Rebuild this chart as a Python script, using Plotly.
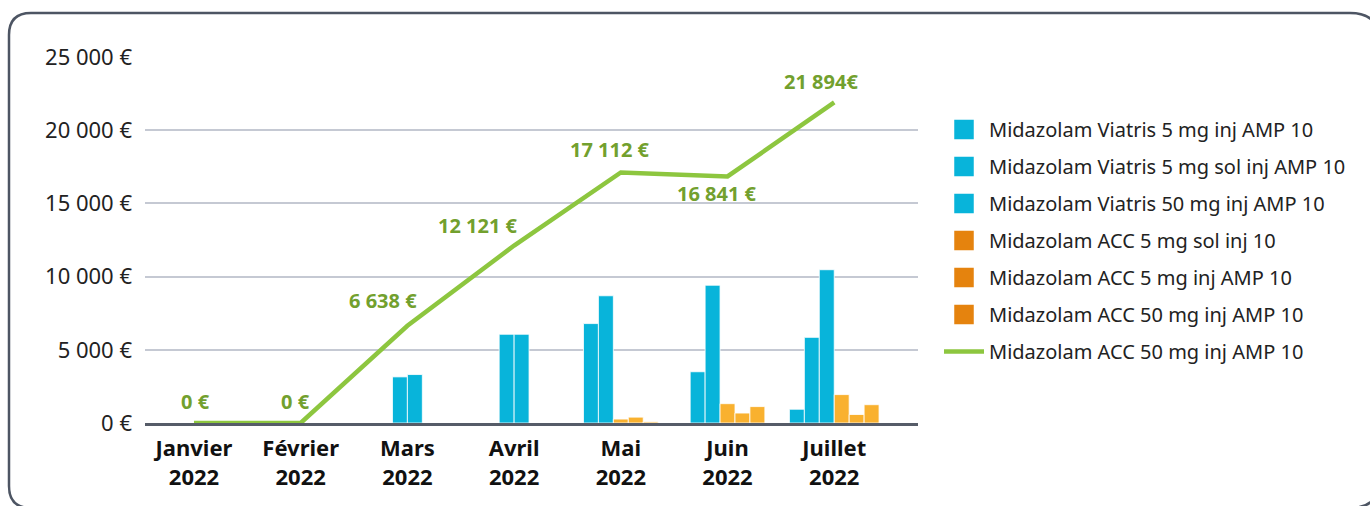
import plotly.graph_objects as go

# ---------------- data ----------------
months = ["Janvier", "Février", "Mars", "Avril", "Mai", "Juin", "Juillet"]
years = ["2022", "2022", "2022", "2022", "2022", "2022", "2022"]

series_names = [
    "Midazolam Viatris 5 mg inj AMP 10",
    "Midazolam Viatris 5 mg sol inj AMP 10",
    "Midazolam Viatris 50 mg inj AMP 10",
    "Midazolam ACC 5 mg sol inj 10",
    "Midazolam ACC 5 mg inj AMP 10",
    "Midazolam ACC 50 mg inj AMP 10",
]
viatris_5_inj = [None, None, 3150, 6060, 6790, 3500, 940]
viatris_5_sol = [None, None, 3310, 6060, 8690, 9410, 5850]
viatris_50_inj = [None, None, None, None, None, None, 10470]
acc_5_sol = [None, None, None, None, 270, 1320, 1940]
acc_5_inj = [None, None, None, None, 400, 680, 580]
acc_50_inj = [None, None, None, None, 80, 1120, 1250]

line_name = "Midazolam ACC 50 mg inj AMP 10"
total = [0, 0, 6638, 12121, 17112, 16841, 21894]
total_labels = ["0 €", "0 €", "6 638 €", "12 121 €", "17 112 €", "16 841 €", "21 894€"]

y_ticks = [0, 5000, 10000, 15000, 20000, 25000]
y_tick_labels = ["0 €", "5 000 €", "10 000 €", "15 000 €", "20 000 €", "25 000 €"]

# ---------------- styles ----------------
FONT = "Noto Sans"
BLUE = "#08B4DA"
ORANGE_BAR = "#F9B12F"
ORANGE_LEG = "#E5830E"
GREEN = "#8DC63F"
GREEN_TXT = "#72A02E"
bar_colors = [BLUE, BLUE, BLUE, ORANGE_BAR, ORANGE_BAR, ORANGE_BAR]
legend_colors = [BLUE, BLUE, BLUE, ORANGE_LEG, ORANGE_LEG, ORANGE_LEG]
bar_w = 0.14
# label offsets (pixels) for the total labels
lab_dx = [2, -5, -24, -36, -11, -11, -13]
lab_dy = [22, 22, 25, 20, 23, -17, 21]

series_vals = [viatris_5_inj, viatris_5_sol, viatris_50_inj, acc_5_sol, acc_5_inj, acc_50_inj]
n_month = len(months)
month_idx = list(range(n_month))

# bars of a month are packed side by side and centred on the month
xpos = [[None] * n_month for _ in series_vals]
for m in range(n_month):
    present = [s for s, vals in enumerate(series_vals) if vals[m]]
    k = len(present)
    for j, s in enumerate(present):
        xpos[s][m] = m + (j - (k - 1) / 2) * bar_w

fig = go.Figure()

for s, vals in enumerate(series_vals):
    fig.add_trace(go.Bar(
        x=xpos[s], y=vals, width=bar_w,
        marker=dict(color=bar_colors[s], line=dict(color="rgba(255,255,255,0.8)", width=1)),
        showlegend=False, hoverinfo="y",
    ))

fig.add_trace(go.Scatter(
    x=month_idx, y=total, mode="lines",
    line=dict(color=GREEN, width=4.5),
    showlegend=False,
))

# legend entries
for s, name in enumerate(series_names):
    fig.add_trace(go.Scatter(
        x=[None], y=[None], mode="markers", name=name,
        legendgroup="g%d" % s,
        marker=dict(symbol="square", size=16, color=legend_colors[s],
                    line=dict(color=legend_colors[s], width=3.5)),
    ))
fig.add_trace(go.Scatter(
    x=[None], y=[None], mode="lines", name=line_name, legendgroup="gline",
    line=dict(color=GREEN, width=4.5),
))

for i in month_idx:
    fig.add_annotation(
        x=i, y=total[i], text=total_labels[i], showarrow=False,
        xshift=lab_dx[i], yshift=lab_dy[i],
        font=dict(family=FONT, size=20, color=GREEN_TXT, weight="bold"),
    )

# ---------------- layout ----------------
W, H = 1370, 506
ML, MR, MT, MB = 145, 452, 57, 83
PW, PH = W - ML - MR, H - MT - MB


def px(xp):
    return (xp - ML) / PW


def py(yp):
    return (H - MB - yp) / PH


# rounded frame (partly outside the picture on the right and bottom)
x0, y0, x1, y1 = 9, 13, 1380, 508
rl, rr = 22, 30
path = (
    f"M {px(x0)},{py(y0 + rl)} "
    f"L {px(x0)},{py(y1 - rl)} Q {px(x0)},{py(y1)} {px(x0 + rl)},{py(y1)} "
    f"L {px(x1 - rr)},{py(y1)} Q {px(x1)},{py(y1)} {px(x1)},{py(y1 - rr)} "
    f"L {px(x1)},{py(y0 + rr)} Q {px(x1)},{py(y0)} {px(x1 - rr)},{py(y0)} "
    f"L {px(x0 + rl)},{py(y0)} Q {px(x0)},{py(y0)} {px(x0)},{py(y0 + rl)} Z"
)
fig.add_shape(type="path", path=path, xref="paper", yref="paper",
              line=dict(color="#4D5563", width=2.5), layer="below")

fig.update_layout(
    width=W, height=H,
    margin=dict(l=ML, r=MR, t=MT, b=MB),
    paper_bgcolor="white", plot_bgcolor="white",
    barmode="overlay",
    font=dict(family=FONT, color="#222222"),
    showlegend=True,
    legend=dict(
        x=px(939), xanchor="left", y=py(110), yanchor="top",
        traceorder="grouped", tracegroupgap=8, itemwidth=40,
        font=dict(family=FONT, size=20, color="#222222"),
        bgcolor="rgba(0,0,0,0)",
    ),
    xaxis=dict(
        range=[-0.459, 6.785],
        tickvals=month_idx,
        ticktext=[f"{m}<br>{y}" for m, y in zip(months, years)],
        tickfont=dict(family=FONT, size=22, color="#111111", weight="bold"),
        showgrid=False, zeroline=False,
        showline=True, linecolor="#565C68", linewidth=3,
        ticks="", ticklabelstandoff=4,
    ),
    yaxis=dict(
        range=[0, 25000],
        tickvals=y_ticks,
        ticktext=y_tick_labels,
        tickfont=dict(family=FONT, size=22, color="#222222"),
        showgrid=True, gridcolor="#C5C9D3", gridwidth=1.5,
        zeroline=False, showline=False,
        ticks="", ticklabelstandoff=12,
    ),
)

fig.write_html(
    "out.html",
    config={"displayModeBar": False},
    post_script="document.body.style.margin='0';document.body.style.overflow='hidden';",
)
